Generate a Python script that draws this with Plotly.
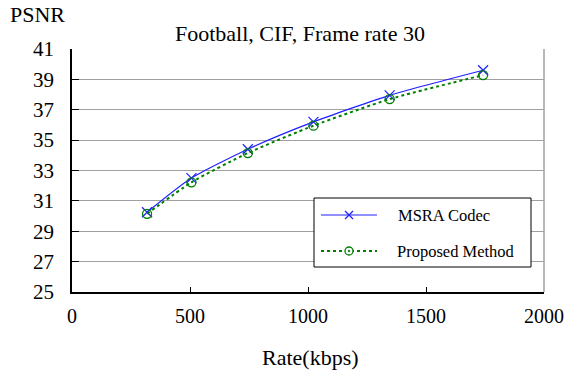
import plotly.graph_objects as go

# Rate-distortion data (Football, CIF, 30 fps)
rate_msra = [318, 506, 745, 1023, 1346, 1742]
psnr_msra = [30.25, 32.5, 34.4, 36.2, 37.95, 39.6]
rate_prop = [318, 506, 745, 1023, 1346, 1742]
psnr_prop = [30.15, 32.22, 34.15, 35.95, 37.7, 39.28]

x_ticks = [0, 500, 1000, 1500, 2000]
y_ticks = [25, 27, 29, 31, 33, 35, 37, 39, 41]

SERIF = "Liberation Serif"
BLUE = "#2020ff"
GREEN = "#008000"

fig = go.Figure()
fig.add_trace(go.Scatter(
    x=rate_msra, y=psnr_msra, name="MSRA Codec", mode="lines+markers",
    line=dict(color=BLUE, width=1.2, shape="spline", smoothing=0.6),
    marker=dict(symbol="x-thin-open", size=10, line=dict(color=BLUE, width=1.2)),
    showlegend=False,
))
fig.add_trace(go.Scatter(
    x=rate_prop, y=psnr_prop, name="Proposed Method", mode="lines+markers",
    line=dict(color=GREEN, width=2, dash="dot", shape="spline", smoothing=0.6),
    marker=dict(symbol="circle-open", size=9, color=GREEN, line=dict(color=GREEN, width=1.3)),
    showlegend=False,
))

# Hand-built legend box in paper pixels
W, H = 568, 370
L, R, T, B = 72, 24, 49, 78
pw, ph = W - L - R, H - T - B

def px(x):
    return (x - L) / pw

def py(y):
    return (H - B - y) / ph

shapes = [
    # right border of the plot frame
    dict(type="line", xref="paper", yref="paper", x0=1, x1=1, y0=0, y1=1,
         line=dict(color="#a0a0a0", width=1.5)),
    # legend box
    dict(type="rect", xref="paper", yref="paper", x0=px(314), x1=px(531), y0=py(198), y1=py(267),
         line=dict(color="black", width=1), fillcolor="white"),
    # legend samples
    dict(type="line", xref="paper", yref="paper", x0=px(321), x1=px(377), y0=py(215), y1=py(215),
         line=dict(color=BLUE, width=1.2)),
    dict(type="line", xref="paper", yref="paper", x0=px(349 - 4), x1=px(349 + 4), y0=py(211), y1=py(219),
         line=dict(color=BLUE, width=1.2)),
    dict(type="line", xref="paper", yref="paper", x0=px(349 - 4), x1=px(349 + 4), y0=py(219), y1=py(211),
         line=dict(color=BLUE, width=1.2)),
    dict(type="line", xref="paper", yref="paper", x0=px(321), x1=px(377), y0=py(251), y1=py(251),
         line=dict(color=GREEN, width=2, dash="dot")),
    dict(type="circle", xref="paper", yref="paper", x0=px(345), x1=px(353), y0=py(247), y1=py(255),
         line=dict(color=GREEN, width=1.3), fillcolor="white"),
    dict(type="circle", xref="paper", yref="paper", x0=px(348), x1=px(350), y0=py(250), y1=py(252),
         line=dict(color=GREEN, width=0.5), fillcolor=GREEN),
]

annotations = [
    dict(text="MSRA Codec", xref="paper", yref="paper", x=px(396), y=py(215),
         xanchor="left", yanchor="middle", showarrow=False,
         font=dict(family=SERIF, size=16.5, color="black")),
    dict(text="Proposed Method", xref="paper", yref="paper", x=px(395), y=py(251),
         xanchor="left", yanchor="middle", showarrow=False,
         font=dict(family=SERIF, size=16.5, color="black")),
    dict(text="Football, CIF, Frame rate 30", xref="paper", yref="paper", x=px(300), y=py(34),
         xanchor="center", yanchor="middle", showarrow=False,
         font=dict(family=SERIF, size=22, color="black")),
    dict(text="PSNR", xref="paper", yref="paper", x=px(8), y=py(15),
         xanchor="left", yanchor="middle", showarrow=False,
         font=dict(family=SERIF, size=22, color="black")),
    dict(text="Rate(kbps)", xref="paper", yref="paper", x=px(310), y=py(357),
         xanchor="center", yanchor="middle", showarrow=False,
         font=dict(family=SERIF, size=22, color="black")),
]

fig.update_layout(
    width=W, height=H, autosize=False,
    margin=dict(l=L, r=R, t=T, b=B, pad=0),
    paper_bgcolor="white", plot_bgcolor="white",
    showlegend=False,
    font=dict(family=SERIF),
    shapes=shapes, annotations=annotations,
    xaxis=dict(range=[0, 2000], tickvals=x_ticks, ticks="inside", ticklen=5, tickwidth=1,
               tickcolor="black", showline=True, linecolor="black", linewidth=1.5,
               showgrid=False, zeroline=False, ticklabelstandoff=5, automargin=False,
               tickfont=dict(family=SERIF, size=20, color="black")),
    yaxis=dict(range=[25, 41], tickvals=y_ticks, ticks="inside", ticklen=7, tickwidth=1,
               tickcolor="black", showline=True, linecolor="black", linewidth=1.5,
               showgrid=True, gridcolor="#a0a0a0", gridwidth=1.2, zeroline=False,
               ticklabelstandoff=12, automargin=False,
               tickfont=dict(family=SERIF, size=21, color="black")),
)

fig.write_html("out.html")
